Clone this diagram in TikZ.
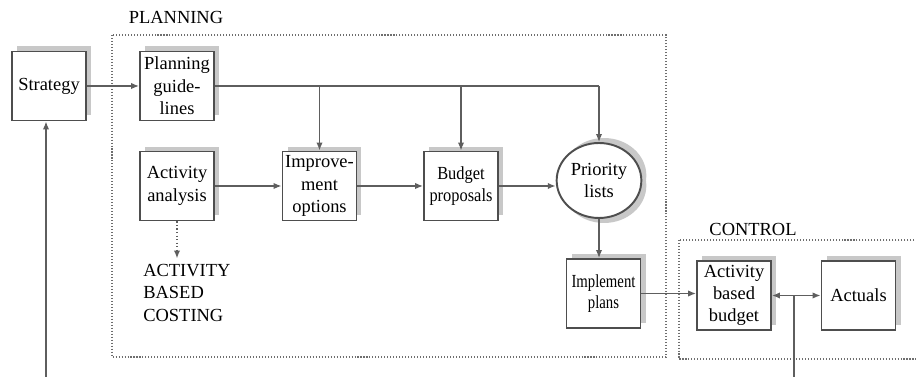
\documentclass[tikz,border=0pt]{standalone}
\usepackage{fontspec}
\setmainfont{Liberation Serif}
\usepackage{tikz}
\usetikzlibrary{arrows.meta}
\usetikzlibrary{shadows}
\usetikzlibrary{shapes.geometric}
\definecolor{edgegray}{HTML}{4E4E4E}
\definecolor{linegray}{HTML}{5E5E5E}
\definecolor{dotgray}{HTML}{6E6E6E}
\definecolor{shadegray}{HTML}{C8C8C8}
\tikzset{box/.style={draw=edgegray, line width=1.1pt, fill=white,
    minimum width=1.48cm, minimum height=1.38cm, align=center, inner sep=1pt,
    font=\fontsize{10.5}{12.7}\selectfont,
    drop shadow={shadow xshift=0.1cm, shadow yshift=0.1cm, fill=shadegray, opacity=1}},
  link/.style={draw=linegray, line width=0.8pt, -{Latex[length=4.5pt,width=3.6pt]}},
  region/.style={draw=dotgray, line width=0.6pt, dash pattern=on 0.6pt off 1.1pt}}

\begin{document}
\begin{tikzpicture}[x=0.02cm, y=-0.02cm]
                    \useasboundingbox (0,0) rectangle (916,377);

                    % dotted regions
                    \draw[region] (112,35) rectangle (666,357);
                    \draw[region] (679,240) rectangle (930,359);
                    \node[font=\fontsize{10.5}{12.7}\selectfont] (Plan) at (176,17) {PLANNING};
                    \node[font=\fontsize{10.5}{12.7}\selectfont] (Ctrl) at (753,229) {CONTROL};

                    \node[box] (S) at (49,86) {Strategy};
                    \node[box] (G) at (177,86) {Planning\\guide-\\lines};
                    \node[box] (A) at (177,186) {Activity\\analysis};
                    \node[box] (I) at (319.5,186) {Improve-\\ment\\options};
                    \node[box, font=\fontsize{10.5}{12.4}\selectfont\addfontfeatures{FakeStretch=0.89}] (B) at (461,186) {Budget\\proposals};
                    \node[box, ellipse, minimum width=1.66cm, minimum height=1.5cm,
                        drop shadow={shadow xshift=0.1cm, shadow yshift=-0.1cm, fill=shadegray, opacity=1}] (P) at (599,180.5) {Priority\\lists};
                    \node[box, font=\fontsize{10.5}{12}\selectfont\addfontfeatures{FakeStretch=0.8}] (M) at (603.5,293.5) {Implement\\plans};
                    \node[box] (C) at (734,295.5) {Activity\\based\\budget};
                    \node[box] (U) at (858.5,295.5) {Actuals};
                    \node[anchor=north west, align=left, inner sep=0pt,
                        font=\fontsize{10.5}{12.7}\selectfont] (K) at (143,264) {ACTIVITY\\BASED\\COSTING};

                    \coordinate (R) at (46,377);
                    \coordinate (F) at (794,377);
                    \coordinate (T1) at (I |- G.east);
                    \coordinate (T2) at (B |- G.east);
                    \coordinate (T3) at (P |- G.east);
                    \coordinate (J) at (F |- C.east);

                    \draw[link] (S) -- (G);
                    \draw[link, -] (G.east) -- (T3);
                    \draw[link] (T3) -- (P.north);
                    \draw[link] (T1) -- (I.north);
                    \draw[link] (T2) -- (B.north);
                    \draw[link] (A) -- (I);
                    \draw[link] (I) -- (B);
                    \draw[link] (B.east) -- (B.east -| P.west);
                    \draw[link] (P.south) -- (P.south |- M.north);
                    \draw[link] (M.east) -- (M.east -| C.west);
                    \draw[link, {Latex[length=4.5pt,width=3.6pt]}-{Latex[length=4.5pt,width=3.6pt]}] (C) -- (U);
                    \draw[link, -] (F) -- (J);
                    \draw[link] (R) -- (R |- S.south);
                    \draw[link, dash pattern=on 0.8pt off 1.2pt] (A.south) -- ++(0,37);

\end{tikzpicture}
\end{document}
